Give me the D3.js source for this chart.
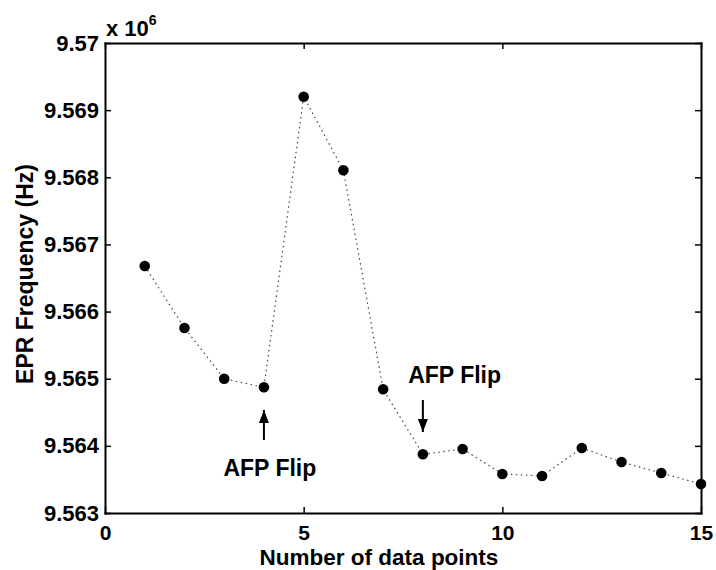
<!DOCTYPE html>
<html>
<head>
<meta charset="utf-8">
<script src="https://cdn.jsdelivr.net/npm/d3@7"></script>
<style>
	body { margin: 0; background: #fff; }
	svg text { font-family: "Liberation Sans", Arial, Helvetica, sans-serif; font-weight: bold; fill: #000; }
</style>
</head>
<body>
<div id="chart"></div>
<script>
// data (Hz)
var points = [1, 2, 3, 4, 5, 6, 7, 8, 9, 10, 11, 12, 13, 14, 15];
var freq = [9566679, 9565755, 9565000, 9564872, 9569200, 9568104, 9564842, 9563874,
	9563953, 9563581, 9563551, 9563968, 9563759, 9563595, 9563432];
var xTicks = [0, 5, 10, 15];
var yTicks = [9563000, 9564000, 9565000, 9566000, 9567000, 9568000, 9569000, 9570000];

// annotations: arrow from y1 to y2 (tip), label position
var notes = [
	{ x: 4, y1: 9564087, y2: 9564534, tx: 4.15, ty: 9563551, anchor: "middle", label: "AFP Flip" },
	{ x: 8, y1: 9564683, y2: 9564206, tx: 7.63, ty: 9564937, anchor: "start", label: "AFP Flip" }
];

var W = 716, H = 570;
var pLeft = 105, pRight = 701, pTop = 43, pBottom = 513;

var x = d3.scaleLinear().domain([0, 15]).range([pLeft, pRight]);
var y = d3.scaleLinear().domain([9563000, 9570000]).range([pBottom, pTop]);

var fmt = function(v){ return String(+(v / 1e6).toFixed(3)); };

var svg = d3.select("#chart").append("svg")
	.attr("width", W)
	.attr("height", H);

svg.append("defs").append("marker")
	.attr("id", "head")
	.attr("viewBox", "0 0 13 10")
	.attr("refX", 13)
	.attr("refY", 5)
	.attr("markerWidth", 13)
	.attr("markerHeight", 10)
	.attr("markerUnits", "userSpaceOnUse")
	.attr("orient", "auto")
	.append("path")
	.attr("d", "M0,0 L13,5 L0,10 Z")
	.attr("fill", "#000");

function styleAxis(g){
	g.select(".domain").attr("stroke", "#000").attr("stroke-width", 2).attr("stroke-linecap", "square");
	g.selectAll(".tick line").attr("stroke", "#000").attr("stroke-width", 1.5);
	g.selectAll(".tick text").style("font-size", "22px");
}

svg.append("g")
	.attr("transform", "translate(0," + pBottom + ")")
	.call(d3.axisBottom(x).tickValues(xTicks).tickSizeInner(-6).tickSizeOuter(0).tickPadding(12))
	.call(styleAxis)
	.selectAll(".tick text").style("font-size", "21px");

svg.append("g")
	.attr("transform", "translate(0," + pTop + ")")
	.call(d3.axisTop(x).tickValues(xTicks).tickSizeInner(-6).tickSizeOuter(0).tickFormat(""))
	.call(styleAxis);

svg.append("g")
	.attr("transform", "translate(" + pLeft + ",0)")
	.call(d3.axisLeft(y).tickValues(yTicks).tickSizeInner(-6).tickSizeOuter(0).tickPadding(6).tickFormat(fmt))
	.call(styleAxis);

svg.append("g")
	.attr("transform", "translate(" + pRight + ",0)")
	.call(d3.axisRight(y).tickValues(yTicks).tickSizeInner(-6).tickSizeOuter(0).tickFormat(""))
	.call(styleAxis);

// exponent label
var ex = svg.append("text")
	.attr("x", pLeft + 1)
	.attr("y", 36)
	.style("font-size", "22px");
ex.append("tspan").text("x 10");
ex.append("tspan").attr("dy", -11).style("font-size", "14px").text("6");

// axis titles
svg.append("text")
	.attr("x", 379)
	.attr("y", 565)
	.attr("text-anchor", "middle")
	.style("font-size", "22.5px")
	.text("Number of data points");

svg.append("text")
	.attr("transform", "translate(33,274) rotate(-90)")
	.attr("text-anchor", "middle")
	.style("font-size", "23px")
	.text("EPR Frequency (Hz)");

// dotted line + markers
var line = d3.line()
	.x(function(d, i){ return x(points[i]); })
	.y(function(d){ return y(d); });

svg.append("path")
	.datum(freq)
	.attr("d", line)
	.attr("fill", "none")
	.attr("stroke", "#444")
	.attr("stroke-width", 1.2)
	.attr("stroke-dasharray", "1.5,3.5");

svg.selectAll(".dot")
	.data(freq)
	.enter().append("circle")
	.attr("class", "dot")
	.attr("cx", function(d, i){ return x(points[i]); })
	.attr("cy", function(d){ return y(d); })
	.attr("r", 5.3)
	.attr("fill", "#000");

// annotations
svg.selectAll(".arrow")
	.data(notes)
	.enter().append("line")
	.attr("class", "arrow")
	.attr("x1", function(d){ return x(d.x); })
	.attr("x2", function(d){ return x(d.x); })
	.attr("y1", function(d){ return y(d.y1); })
	.attr("y2", function(d){ return y(d.y2); })
	.attr("stroke", "#000")
	.attr("stroke-width", 2)
	.attr("marker-end", "url(#head)");

svg.selectAll(".note")
	.data(notes)
	.enter().append("text")
	.attr("class", "note")
	.attr("x", function(d){ return x(d.tx); })
	.attr("y", function(d){ return y(d.ty); })
	.attr("text-anchor", function(d){ return d.anchor; })
	.style("font-size", "23px")
	.text(function(d){ return d.label; });
</script>
</body>
</html>
